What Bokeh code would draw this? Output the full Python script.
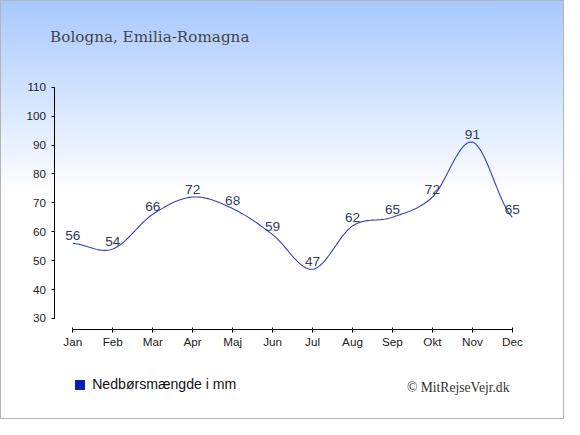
import numpy as np
from bokeh.plotting import figure
from bokeh.models import Range1d, FixedTicker, Label, Legend, LegendItem
from bokeh.embed import file_html
from bokeh.resources import INLINE
from bokeh.core.properties import value

# ---- data ----
months = ["Jan", "Feb", "Mar", "Apr", "Maj", "Jun", "Jul", "Aug", "Sep", "Okt", "Nov", "Dec"]
precip = [56, 54, 66, 72, 68, 59, 47, 62, 65, 72, 91, 65]
y_ticks = [30, 40, 50, 60, 70, 80, 90, 100, 110]
title_text = "Bologna, Emilia-Romagna"
legend_text = "Nedbørsmængde i mm"
credit_text = "© MitRejseVejr.dk"

W, H = 564, 419
LINE = "#3340c8"

# frame covers the whole canvas; axes are drawn at fixed positions inside it
p = figure(width=W, height=H, output_backend="svg", toolbar_location=None,
           x_range=Range1d(-1.809, 12.305), y_range=Range1d(-4.98, 140.0),
           min_border=0,
           background_fill_color=None, border_fill_color=None, outline_line_color=None)
p.styles = {"background": "linear-gradient(to bottom, #a7c8ff 0px, #ffffff 193px, #ffffff 100%)",
            "box-shadow": "inset 0 0 0 1px #b4b4b4"}
p.grid.visible = False

# axes
xa = p.xaxis[0]
xa.ticker = FixedTicker(ticks=list(range(len(months))))
xa.major_label_overrides = {i: m for i, m in enumerate(months)}
xa.bounds = (0, len(months) - 1)
xa.fixed_location = 26.33
xa.major_tick_in = 2
xa.major_tick_out = 3
xa.minor_tick_line_color = None
xa.major_label_standoff = 3
ya = p.yaxis[0]
ya.ticker = FixedTicker(ticks=y_ticks)
ya.bounds = (y_ticks[0], y_ticks[-1])
ya.fixed_location = -0.470
ya.major_tick_in = 0
ya.major_tick_out = 3
ya.minor_tick_line_color = None
ya.major_label_standoff = 5
for ax in (xa, ya):
    ax.axis_line_color = "black"
    ax.major_tick_line_color = "black"
    ax.major_label_text_font = "Liberation Sans"
    ax.major_label_text_font_size = "11.7px"
    ax.major_label_text_color = "#222222"

# smooth curve (Catmull-Rom / cubic Hermite through the data points)
xs = np.arange(len(precip), dtype=float)
ys = np.array(precip, dtype=float)
m = np.empty_like(ys)
m[1:-1] = (ys[2:] - ys[:-2]) / 2.0
m[0] = (ys[1] - ys[0]) / 2.0
m[-1] = (ys[-1] - ys[-2]) / 2.0
cx, cy = [], []
t = np.linspace(0, 1, 25)
for i in range(len(ys) - 1):
    h00 = 2 * t**3 - 3 * t**2 + 1
    h10 = t**3 - 2 * t**2 + t
    h01 = -2 * t**3 + 3 * t**2
    h11 = t**3 - t**2
    seg = h00 * ys[i] + h10 * m[i] + h01 * ys[i + 1] + h11 * m[i + 1]
    last = i == len(ys) - 2
    cx.extend(xs[i] + t if last else (xs[i] + t)[:-1])
    cy.extend(seg if last else seg[:-1])
p.line(cx, cy, line_color=LINE, line_width=1.1)

# value labels
p.text(x=list(xs), y=precip, text=[str(v) for v in precip],
       text_align="center", text_baseline="alphabetic", y_offset=-8,
       text_font=value("Liberation Sans"), text_font_size="13.6px", text_color="#2f3e5c")

# title and credit (screen units, measured from bottom-left of the canvas-wide frame)
p.add_layout(Label(x=49.6, y=382.4, x_units="screen", y_units="screen", text=title_text,
                   text_font="DejaVu Serif", text_font_size="15.2px", text_color="#454545",
                   text_baseline="alphabetic"))
p.add_layout(Label(x=406.5, y=31.8, x_units="screen", y_units="screen", text=credit_text,
                   text_font="Liberation Serif", text_font_size="13.6px", text_color="#333333",
                   text_baseline="alphabetic"))

# legend swatch: hidden square-marker renderer of the series (only its legend glyph shows)
sq = p.scatter(x=list(xs), y=precip, marker="square", size=10,
               fill_color="#0a1fb0", line_color=None, visible=False)
leg = Legend(items=[LegendItem(label=legend_text, renderers=[sq])], location=(67.2, 22.2),
             padding=0, margin=0, spacing=0, label_standoff=0,
             glyph_width=25, glyph_height=25, label_height=25,
             label_text_baseline="middle", inactive_fill_alpha=0,
             label_text_font="Liberation Sans", label_text_font_size="14.1px",
             label_text_color="#111111", border_line_color=None, background_fill_alpha=0)
p.add_layout(leg)

open("out.html", "w").write(file_html(p, INLINE))
